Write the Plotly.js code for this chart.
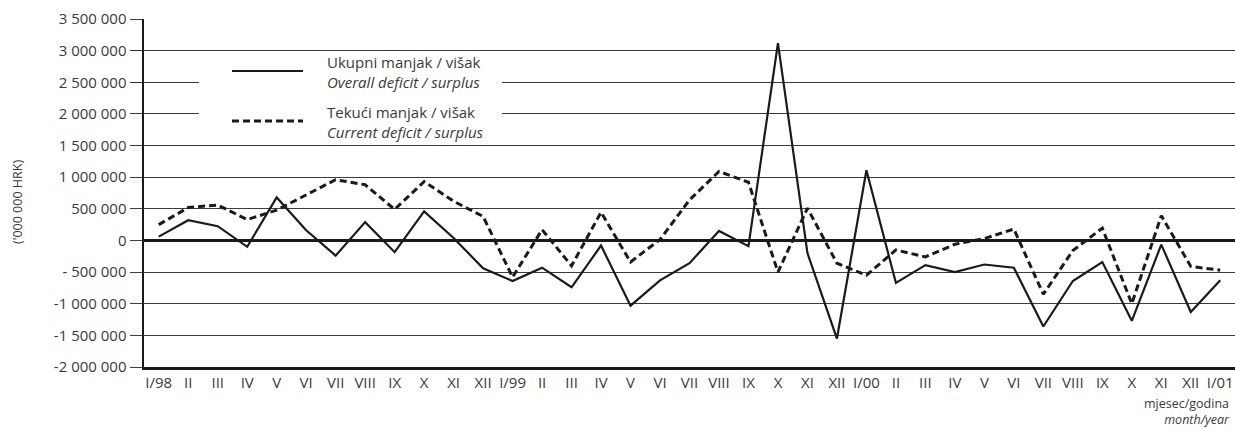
<!DOCTYPE html>
<html>
<head>
<meta charset="utf-8">
<script src="https://cdn.plot.ly/plotly-3.0.1.min.js"></script>
<style>html,body{margin:0;padding:0;background:#fff;}#chart{width:1235px;height:430px;}</style>
</head>
<body>
<div id="chart"></div>
<script>
// Month labels (x axis)
const months = ['I/98','II','III','IV','V','VI','VII','VIII','IX','X','XI','XII',
  'I/99','II','III','IV','V','VI','VII','VIII','IX','X','XI','XII',
  'I/00','II','III','IV','V','VI','VII','VIII','IX','X','XI','XII','I/01'];

// Overall deficit / surplus ('000 HRK)
const overall = [60000, 320000, 225000, -100000, 680000, 160000, -240000, 290000, -185000, 460000, 40000, -440000,
  -640000, -430000, -740000, -80000, -1030000, -630000, -360000, 150000, -90000, 3120000, -200000, -1550000,
  1110000, -670000, -390000, -500000, -380000, -430000, -1360000, -640000, -340000, -1270000, -65000, -1130000,
  -630000];

// Current deficit / surplus ('000 HRK)
const current = [250000, 520000, 560000, 330000, 480000, 720000, 960000, 880000, 490000, 930000, 620000, 380000,
  -580000, 170000, -400000, 445000, -340000, 15000, 640000, 1090000, 920000, -500000, 510000, -360000,
  -550000, -150000, -260000, -60000, 30000, 180000, -850000, -160000, 195000, -1000000, 390000, -410000,
  -470000];

// Y tick values and labels
const yTickVals = [-2000000, -1500000, -1000000, -500000, 0, 500000, 1000000, 1500000, 2000000, 2500000, 3000000, 3500000];
const yTickText = ['-2 000 000', '-1 500 000', '-1 000 000', '- 500 000', '0', '500 000', '1 000 000', '1 500 000', '2 000 000', '2 500 000', '3 000 000', '3 500 000'];

// Legend / label texts
const seriesNames = ['Ukupni manjak / višak<br><i>Overall deficit / surplus</i>',
                     'Tekući manjak / višak<br><i>Current deficit / surplus</i>'];
const yTitle = "('000 000 HRK)";
const xTitle = 'mjesec/godina<br><i>month/year</i>';

const xIdx = months.map((m, i) => i);
const FONT = 'Open Sans, Lato, DejaVu Sans, sans-serif';
const TXT = '#3a3a3a';
const INK = '#1a1a1a';

// plot area geometry in px (for paper-coordinate placements)
const L = 144, T = 19, W = 1235, H = 430, B = 63;
const pw = W - L, ph = H - T - B;
const px = x => (x - L) / pw;
const py = y => (H - B - y) / ph;

const traces = [
  {x: xIdx, y: overall, type: 'scatter', mode: 'lines', name: seriesNames[0],
   line: {color: INK, width: 2.2}, hoverinfo: 'y'},
  {x: xIdx, y: current, type: 'scatter', mode: 'lines', name: seriesNames[1],
   line: {color: INK, width: 3, dash: '7px,4px'}, hoverinfo: 'y'}
];

const layout = {
  width: W, height: H,
  margin: {l: L, r: 0, t: T, b: B},
  paper_bgcolor: '#fff', plot_bgcolor: '#fff',
  showlegend: false,
  font: {family: FONT, color: TXT, size: 15},
  xaxis: {
    range: [-0.5, 36.5], tickvals: xIdx, ticktext: months,
    showgrid: false, zeroline: false, ticks: '',
    showline: true, linecolor: INK, linewidth: 2.5,
    tickfont: {family: FONT, size: 15, color: TXT}, fixedrange: true
  },
  yaxis: {
    range: [-2000000, 3500000], tickvals: yTickVals, ticktext: yTickText,
    showgrid: true, gridcolor: '#3c3c3c', gridwidth: 1,
    zeroline: true, zerolinecolor: INK, zerolinewidth: 2.2,
    ticks: 'outside', ticklen: 12, tickwidth: 1, tickcolor: '#3c3c3c',
    showline: true, linecolor: INK, linewidth: 2.5,
    tickfont: {family: FONT, size: 15, color: TXT}, fixedrange: true
  },
  shapes: [
    {type: 'rect', xref: 'paper', yref: 'paper', x0: px(199), x1: px(502), y0: py(142), y1: py(56),
     fillcolor: '#fff', line: {width: 0}, layer: 'above'},
    {type: 'line', xref: 'paper', yref: 'paper', x0: px(232), x1: px(303), y0: py(71), y1: py(71),
     line: {color: INK, width: 2.2}},
    {type: 'line', xref: 'paper', yref: 'paper', x0: px(232), x1: px(303), y0: py(121), y1: py(121),
     line: {color: INK, width: 3, dash: '7px,4px'}}
  ],
  annotations: [
    {xref: 'paper', yref: 'paper', x: px(325), y: py(72), xanchor: 'left', yanchor: 'middle',
     text: seriesNames[0], showarrow: false, align: 'left', font: {family: FONT, size: 15, color: TXT}},
    {xref: 'paper', yref: 'paper', x: px(325), y: py(121.5), xanchor: 'left', yanchor: 'middle',
     text: seriesNames[1], showarrow: false, align: 'left', font: {family: FONT, size: 15, color: TXT}},
    {xref: 'paper', yref: 'paper', x: px(17), y: py(202), xanchor: 'center', yanchor: 'middle',
     text: yTitle, textangle: -90, showarrow: false, font: {family: FONT, size: 12.5, color: TXT}},
    {xref: 'paper', yref: 'paper', x: px(1232), y: py(411), xanchor: 'right', yanchor: 'middle',
     text: xTitle, showarrow: false, align: 'right', font: {family: FONT, size: 12.5, color: TXT}}
  ]
};

Plotly.newPlot('chart', traces, layout, {displayModeBar: false, staticPlot: true});
</script>
</body>
</html>
